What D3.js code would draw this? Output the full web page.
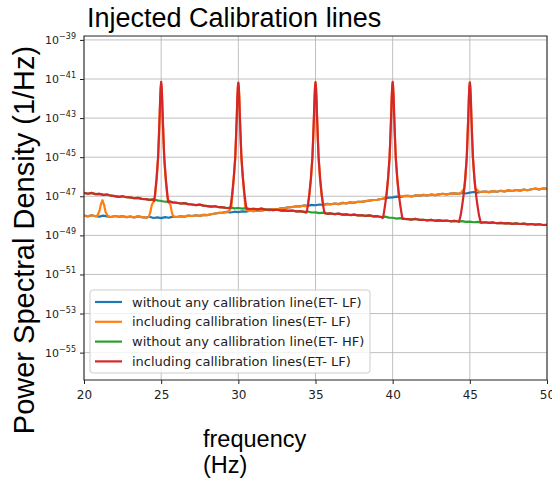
<!DOCTYPE html>
<html>
<head>
<meta charset="utf-8">
<script src="https://cdn.jsdelivr.net/npm/d3@7/dist/d3.min.js"></script>
<style>
  body { margin: 0; background: #fff; }
  svg { display: block; }
</style>
</head>
<body>
<svg id="chart"></svg>
<script>
// frequency grid of the baseline arrays (Hz)
const fStart = 20, fStep = 0.25;

// log10 PSD, ET-LF noise floor (blue / orange)
const lfBase = [
  -47.99, -48.03, -47.97, -48.02, -48.04, -47.99, -48.03, -48.06,
  -48.01, -48.05, -48.02, -48.07, -48.04, -48.08, -48.03, -48.07,
  -48.09, -48.05, -48.11, -48.08, -48.12, -48.07, -48.10, -48.04,
  -48.06, -48.02, -48.05, -47.99, -48.01, -47.97, -48.00, -47.95,
  -47.96, -47.92, -47.88, -47.85, -47.84, -47.80, -47.83, -47.79,
  -47.81, -47.77, -47.79, -47.74, -47.76, -47.72, -47.74, -47.69,
  -47.71, -47.66, -47.68, -47.62, -47.61, -47.57, -47.55, -47.51,
  -47.52, -47.47, -47.49, -47.44, -47.46, -47.42, -47.44, -47.39,
  -47.41, -47.37, -47.40, -47.34, -47.36, -47.31, -47.33, -47.28,
  -47.29, -47.25, -47.22, -47.19, -47.18, -47.14, -47.11, -47.07,
  -47.06, -47.02, -47.04, -46.99, -46.98, -47.01, -46.95, -46.97,
  -46.93, -46.96, -46.91, -46.94, -46.90, -46.87, -46.91, -46.86,
  -46.85, -46.88, -46.83, -46.86, -46.81, -46.78, -46.82, -46.77,
  -46.76, -46.79, -46.74, -46.77, -46.72, -46.75, -46.70, -46.73,
  -46.68, -46.71, -46.66, -46.69, -46.64, -46.61, -46.65, -46.60,
  -46.62
];

// log10 PSD, ET-HF noise floor (green / red)
const hfBase = [
  -46.82, -46.87, -46.83, -46.89, -46.88, -46.93, -46.91, -46.97,
  -46.99, -47.03, -47.00, -47.05, -47.06, -47.10, -47.08, -47.13,
  -47.15, -47.18, -47.16, -47.21, -47.24, -47.28, -47.26, -47.31,
  -47.33, -47.37, -47.35, -47.40, -47.42, -47.45, -47.43, -47.48,
  -47.50, -47.53, -47.51, -47.56, -47.57, -47.60, -47.58, -47.62,
  -47.60, -47.63, -47.61, -47.65, -47.64, -47.67, -47.63, -47.68,
  -47.68, -47.71, -47.69, -47.73, -47.72, -47.75, -47.73, -47.77,
  -47.76, -47.80, -47.78, -47.83, -47.82, -47.86, -47.84, -47.89,
  -47.88, -47.91, -47.89, -47.94, -47.93, -47.96, -47.94, -47.98,
  -47.97, -48.00, -47.98, -48.03, -48.02, -48.06, -48.04, -48.09,
  -48.10, -48.14, -48.12, -48.16, -48.17, -48.19, -48.16, -48.21,
  -48.20, -48.23, -48.21, -48.25, -48.23, -48.26, -48.24, -48.28,
  -48.26, -48.29, -48.27, -48.31, -48.30, -48.33, -48.31, -48.35,
  -48.33, -48.36, -48.34, -48.38, -48.36, -48.39, -48.37, -48.41,
  -48.39, -48.42, -48.40, -48.44, -48.42, -48.45, -48.43, -48.47,
  -48.46
];

// injected lines on the red curve: [f, log10 PSD]
const redPeak25 = [[24.55,-47.24],[24.6,-46.9],[24.7,-46.1],[24.8,-45.0],[24.85,-44.0],[24.9,-42.9],[24.94,-41.9],[24.97,-41.4],[25.0,-41.15],[25.03,-41.4],[25.06,-41.9],[25.1,-42.9],[25.15,-44.0],[25.2,-45.0],[25.3,-46.1],[25.4,-46.9],[25.45,-47.3]];
const redPeak30 = [[29.45,-47.61],[29.5,-47.5],[29.6,-46.9],[29.7,-46.1],[29.8,-45.0],[29.85,-44.0],[29.9,-42.9],[29.94,-41.9],[29.97,-41.4],[30.0,-41.18],[30.03,-41.4],[30.06,-41.9],[30.1,-42.9],[30.15,-44.0],[30.2,-45.0],[30.3,-46.1],[30.4,-46.9],[30.5,-47.5],[30.55,-47.64]];
const redPeak35 = [[34.4,-47.84],[34.45,-47.72],[34.5,-47.5],[34.6,-46.9],[34.7,-46.1],[34.8,-45.0],[34.85,-44.0],[34.9,-42.9],[34.94,-41.9],[34.97,-41.4],[35.0,-41.16],[35.03,-41.4],[35.06,-41.9],[35.1,-42.9],[35.15,-44.0],[35.2,-45.0],[35.3,-46.1],[35.4,-46.9],[35.5,-47.5],[35.55,-47.72],[35.6,-47.87]];
const redPeak40 = [[39.35,-48.12],[39.4,-48.0],[39.5,-47.5],[39.6,-46.9],[39.7,-46.1],[39.8,-45.0],[39.85,-44.0],[39.9,-42.9],[39.94,-41.9],[39.97,-41.4],[40.0,-41.15],[40.03,-41.4],[40.06,-41.9],[40.1,-42.9],[40.15,-44.0],[40.2,-45.0],[40.3,-46.1],[40.4,-46.9],[40.5,-47.5],[40.6,-48.0],[40.65,-48.16]];
const redPeak45 = [[44.3,-48.31],[44.35,-48.15],[44.4,-48.0],[44.5,-47.5],[44.6,-46.9],[44.7,-46.1],[44.8,-45.0],[44.85,-44.0],[44.9,-42.9],[44.94,-41.9],[44.97,-41.4],[45.0,-41.17],[45.03,-41.4],[45.06,-41.9],[45.1,-42.9],[45.15,-44.0],[45.2,-45.0],[45.3,-46.1],[45.4,-46.9],[45.5,-47.5],[45.6,-48.0],[45.65,-48.15],[45.7,-48.34]];

// injected lines on the orange curve (mostly under the red one)
const orangeBump21 = [[20.85,-48.01],[21.0,-47.75],[21.1,-47.4],[21.2,-47.2],[21.3,-47.45],[21.4,-47.8],[21.55,-48.02]];
const orangePeak25 = [[24.2,-48.06],[24.3,-47.8],[24.4,-47.42],[24.5,-47.3],[24.6,-47.0],[24.7,-46.2],[24.8,-45.1],[24.85,-44.1],[24.9,-43.0],[24.94,-42.0],[24.97,-41.5],[25.0,-41.25],[25.03,-41.5],[25.06,-42.0],[25.1,-43.0],[25.15,-44.1],[25.2,-45.1],[25.3,-46.2],[25.4,-47.0],[25.5,-47.3],[25.6,-47.45],[25.7,-47.85],[25.8,-48.04]];
const orangePeak30 = [[29.3,-47.8],[29.45,-47.7],[29.55,-47.55],[29.65,-46.6],[29.75,-45.6],[29.8,-45.05],[29.85,-44.05],[29.9,-42.95],[29.94,-41.95],[29.97,-41.45],[30.0,-41.22],[30.03,-41.45],[30.06,-41.95],[30.1,-42.95],[30.15,-44.05],[30.2,-45.05],[30.25,-45.6],[30.35,-46.6],[30.45,-47.55],[30.55,-47.7],[30.7,-47.76]];
const orangePeak35 = [[34.3,-47.5],[34.5,-47.5],[34.6,-46.95],[34.7,-46.15],[34.8,-45.05],[34.85,-44.05],[34.9,-42.95],[34.94,-41.95],[34.97,-41.45],[35.0,-41.2],[35.03,-41.45],[35.06,-41.95],[35.1,-42.95],[35.15,-44.05],[35.2,-45.05],[35.3,-46.15],[35.4,-46.95],[35.5,-47.45],[35.7,-47.42]];
const orangePeak40 = [[39.4,-47.12],[39.6,-47.0],[39.7,-46.15],[39.8,-45.05],[39.85,-44.05],[39.9,-42.95],[39.94,-41.95],[39.97,-41.45],[40.0,-41.2],[40.03,-41.45],[40.06,-41.95],[40.1,-42.95],[40.15,-44.05],[40.2,-45.05],[40.3,-46.15],[40.4,-46.95],[40.6,-47.0],[40.8,-46.98]];
const orangePeak45 = [[44.4,-46.84],[44.65,-46.6],[44.7,-46.15],[44.8,-45.05],[44.85,-44.05],[44.9,-42.95],[44.94,-41.95],[44.97,-41.45],[45.0,-41.2],[45.03,-41.45],[45.06,-41.95],[45.1,-42.95],[45.15,-44.05],[45.2,-45.05],[45.3,-46.15],[45.35,-46.6],[45.6,-46.76]];

const xTicks = [20, 25, 30, 35, 40, 45, 50];
const yTickExps = [-39, -41, -43, -45, -47, -49, -51, -53, -55];
const seriesNames = [
  "without any callibration line(ET- LF)",
  "including callibration lines(ET- LF)",
  "without any callibration line(ET- HF)",
  "including callibration lines(ET- LF)"
];
const colors = ["#1f77b4", "#ff7f0e", "#2ca02c", "#d62728"];

// put peak samples in place of the baseline samples they cover
function withPeaks(base, peaks) {
  let pts = base.map((v, i) => [fStart + i * fStep, v]);
  peaks.forEach(pk => {
    const lo = pk[0][0], hi = pk[pk.length - 1][0];
    pts = pts.filter(p => p[0] < lo || p[0] > hi).concat(pk);
  });
  return pts.sort((a, b) => a[0] - b[0]);
}

const series = [
  withPeaks(lfBase, []),
  withPeaks(lfBase, [orangeBump21, orangePeak25, orangePeak30, orangePeak35, orangePeak40, orangePeak45]),
  withPeaks(hfBase, []),
  withPeaks(hfBase, [redPeak25, redPeak30, redPeak35, redPeak40, redPeak45])
];

const W = 552, H = 479;
const plot = { left: 84, right: 547, top: 36, bottom: 380 };

const svg = d3.select("#chart").attr("width", W).attr("height", H);

const x = d3.scaleLinear().domain([20, 50]).range([plot.left, plot.right]);
const y = d3.scaleLog().domain([Math.pow(10, -56.4), Math.pow(10, -38.8)]).range([plot.bottom, plot.top]);

// grid
svg.append("g")
  .selectAll("line.vg")
  .data(xTicks)
  .enter().append("line")
  .attr("x1", d => x(d)).attr("x2", d => x(d))
  .attr("y1", plot.top).attr("y2", plot.bottom)
  .attr("stroke", "#b0b0b0").attr("stroke-width", 0.8);

svg.append("g")
  .selectAll("line.hg")
  .data(yTickExps)
  .enter().append("line")
  .attr("x1", plot.left).attr("x2", plot.right)
  .attr("y1", d => y(Math.pow(10, d))).attr("y2", d => y(Math.pow(10, d)))
  .attr("stroke", "#b0b0b0").attr("stroke-width", 0.8);

// lines
svg.append("clipPath").attr("id", "clip")
  .append("rect")
  .attr("x", plot.left).attr("y", plot.top)
  .attr("width", plot.right - plot.left).attr("height", plot.bottom - plot.top);

const line = d3.line()
  .x(d => x(d[0]))
  .y(d => y(Math.pow(10, d[1])));

svg.append("g").attr("clip-path", "url(#clip)")
  .selectAll("path")
  .data(series)
  .enter().append("path")
  .attr("d", line)
  .attr("fill", "none")
  .attr("stroke", (d, i) => colors[i])
  .attr("stroke-width", 2.2)
  .attr("stroke-linejoin", "round");

// axes
const xAxis = d3.axisBottom(x).tickValues(xTicks).tickSize(4).tickPadding(6).tickFormat(d3.format("d"));
const gx = svg.append("g")
  .attr("transform", `translate(0,${plot.bottom})`)
  .call(xAxis);
gx.selectAll("text").attr("font-family", "DejaVu Sans").attr("font-size", 12).attr("fill", "#222");

const yAxis = d3.axisLeft(y).tickValues(yTickExps.map(e => Math.pow(10, e))).tickSize(4).tickPadding(4);
const gy = svg.append("g")
  .attr("transform", `translate(${plot.left},0)`)
  .call(yAxis);
gy.selectAll("text").each(function (d) {
  const t = d3.select(this).text("")
    .attr("font-family", "DejaVu Sans").attr("font-size", 11).attr("fill", "#222");
  t.append("tspan").text("10");
  t.append("tspan").attr("dy", -5).attr("font-size", 8)
    .text("\u2212" + Math.abs(Math.round(Math.log10(d))));
});

[gx, gy].forEach(g => {
  g.select(".domain").remove();
  g.selectAll(".tick line").attr("stroke", "#222");
});

// frame
svg.append("rect")
  .attr("x", plot.left).attr("y", plot.top)
  .attr("width", plot.right - plot.left).attr("height", plot.bottom - plot.top)
  .attr("fill", "none").attr("stroke", "#222").attr("stroke-width", 1);

// legend
const legend = svg.append("g").attr("transform", "translate(90,290)");
legend.append("rect")
  .attr("width", 280).attr("height", 83).attr("rx", 3)
  .attr("fill", "#fff").attr("fill-opacity", 0.8)
  .attr("stroke", "#ccc");

const rows = legend.selectAll("g.row")
  .data(seriesNames)
  .enter().append("g")
  .attr("transform", (d, i) => `translate(0,${12 + i * 19.8})`);
rows.append("line")
  .attr("x1", 5).attr("x2", 32)
  .attr("stroke", (d, i) => colors[i]).attr("stroke-width", 2.2);
rows.append("text")
  .attr("x", 42).attr("dy", "0.35em")
  .attr("font-family", "DejaVu Sans").attr("font-size", 13).attr("fill", "#222")
  .text(d => d);

// titles
svg.append("text")
  .attr("x", 87).attr("y", 27)
  .attr("font-family", "Liberation Sans, Arial, sans-serif").attr("font-size", 27)
  .text("Injected Calibration lines");

svg.append("text")
  .attr("transform", "translate(34,240) rotate(-90)")
  .attr("text-anchor", "middle")
  .attr("font-family", "Liberation Sans, Arial, sans-serif").attr("font-size", 29)
  .text("Power Spectral Density (1/Hz)");

const xl = svg.append("text")
  .attr("font-family", "Liberation Sans, Arial, sans-serif").attr("font-size", 23.5);
xl.append("tspan").attr("x", 203).attr("y", 447).text("frequency");
xl.append("tspan").attr("x", 203).attr("y", 473).text("(Hz)");
</script>
</body>
</html>
